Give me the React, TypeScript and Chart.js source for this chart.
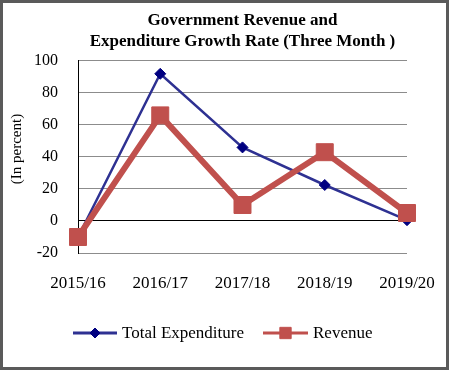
import React, { useEffect, useRef } from 'react';
import { Chart, registerables } from 'chart.js';

Chart.register(...registerables);

const categories = ['2015/16', '2016/17', '2017/18', '2018/19', '2019/20'];
const totalExpenditure = [-10, 92, 46, 22.5, 0.5];
const revenue = [-10, 66, 10, 43, 5];
const seriesNames = ['Total Expenditure', 'Revenue'];
const titleLines = ['Government Revenue and', 'Expenditure Growth Rate (Three Month )'];
const yAxisTitle = '(In percent)';
const yMin = -20;
const yMax = 100;
const yStep = 20;

const SERIF = "'Liberation Serif', 'Times New Roman', serif";
const EXP_LINE = '#2E3192';
const EXP_MARK = '#000080';
const REV = '#C0504D';

const yTitlePlugin = {
  id: 'yTitle',
  afterDraw(chart: any) {
    const ctx = chart.ctx;
    ctx.save();
    ctx.translate(17, 149);
    ctx.rotate(-Math.PI / 2);
    ctx.font = `15px ${SERIF}`;
    ctx.fillStyle = '#000';
    ctx.textAlign = 'center';
    ctx.textBaseline = 'middle';
    ctx.fillText(yAxisTitle, 0, 0);
    ctx.restore();
  },
};

const legendPlugin = {
  id: 'lineMarkerLegend',
  afterDraw(chart: any) {
    const ctx = chart.ctx;
    const y = 333;
    const items = [
      { ds: 0, x0: 73, x1: 117, tx: 122, lw: 3, style: 'rectRot', r: 5 },
      { ds: 1, x0: 263, x1: 308, tx: 313, lw: 3, style: 'rect', r: 8 },
    ];
    items.forEach((it) => {
      const ds = chart.data.datasets[it.ds];
      ctx.save();
      ctx.strokeStyle = ds.borderColor;
      ctx.lineWidth = it.lw;
      ctx.beginPath();
      ctx.moveTo(it.x0, y);
      ctx.lineTo(it.x1, y);
      ctx.stroke();
      ctx.fillStyle = ds.pointBackgroundColor;
      ctx.strokeStyle = ds.pointBorderColor;
      ctx.lineWidth = 1;
      const cx = (it.x0 + it.x1) / 2;
      ctx.beginPath();
      if (it.style === 'rect') {
        const s = it.r * Math.SQRT1_2;
        ctx.rect(cx - s, y - s, 2 * s, 2 * s);
      } else {
        ctx.moveTo(cx - it.r, y);
        ctx.lineTo(cx, y - it.r);
        ctx.lineTo(cx + it.r, y);
        ctx.lineTo(cx, y + it.r);
        ctx.closePath();
      }
      ctx.fill();
      ctx.stroke();
      ctx.fillStyle = '#000';
      ctx.font = `17px ${SERIF}`;
      ctx.textAlign = 'left';
      ctx.textBaseline = 'middle';
      ctx.fillText(ds.label, it.tx, y + 1);
      ctx.restore();
    });
  },
};

export default function App() {
  const ref = useRef<HTMLCanvasElement>(null);

  useEffect(() => {
    if (!ref.current) return;
    const chart = new Chart(ref.current, {
      type: 'line',
      data: {
        labels: categories,
        datasets: [
          {
            label: seriesNames[0],
            data: totalExpenditure,
            borderColor: EXP_LINE,
            backgroundColor: EXP_LINE,
            borderWidth: 2.5,
            pointStyle: 'rectRot',
            pointRadius: 5.5,
            pointBackgroundColor: EXP_MARK,
            pointBorderColor: EXP_MARK,
            pointBorderWidth: 1,
            tension: 0,
            order: 2,
          },
          {
            label: seriesNames[1],
            data: revenue,
            borderColor: REV,
            backgroundColor: REV,
            borderWidth: 6,
            borderJoinStyle: 'round',
            pointStyle: 'rect',
            pointRadius: 12,
            pointBackgroundColor: REV,
            pointBorderColor: REV,
            pointBorderWidth: 1,
            tension: 0,
            order: 1,
          },
        ],
      },
      options: {
        responsive: false,
        animation: false,
        devicePixelRatio: 1,
        layout: { padding: { left: 0, right: 42, top: 0, bottom: 0 } },
        plugins: {
          legend: { display: false },
          tooltip: { enabled: false },
          title: {
            display: true,
            text: titleLines,
            fullSize: false,
            color: '#000',
            font: { family: SERIF, size: 17, weight: 'bold', lineHeight: 1.235 },
            padding: { top: 10, bottom: 9 },
          },
        },
        scales: {
          x: {
            type: 'category',
            offset: false,
            grid: { display: false, drawTicks: false },
            border: { display: false },
            ticks: {
              color: '#000',
              font: { family: SERIF, size: 17 },
              padding: 20,
              maxRotation: 0,
              autoSkip: false,
            },
            afterFit: (scale: any) => {
              scale.height = 117;
              scale.paddingLeft = 0;
              scale.paddingRight = 0;
            },
          },
          y: {
            min: yMin,
            max: yMax,
            grid: {
              drawTicks: false,
              color: (c: any) => (c.tick && c.tick.value === 0 ? '#000000' : '#8c8c8c'),
              lineWidth: 1,
            },
            border: { display: true, color: '#000', width: 1 },
            ticks: {
              stepSize: yStep,
              color: '#000',
              font: { family: SERIF, size: 16 },
              padding: 20,
            },
            afterFit: (scale: any) => {
              scale.width = 78;
            },
          },
        },
      },
      plugins: [yTitlePlugin, legendPlugin],
    });
    return () => chart.destroy();
  }, []);

  return (
    <div style={{ position: 'fixed', left: 0, top: 0, width: 449, height: 370, background: '#fff' }}>
      <canvas ref={ref} width={449} height={370} style={{ position: 'absolute', left: 0, top: 0, width: 449, height: 370 }} />
      <div
        style={{
          position: 'absolute',
          left: 0,
          top: 0,
          width: 449,
          height: 370,
          boxSizing: 'border-box',
          border: '3px solid #5a5a5a',
          pointerEvents: 'none',
        }}
      />
    </div>
  );
}
